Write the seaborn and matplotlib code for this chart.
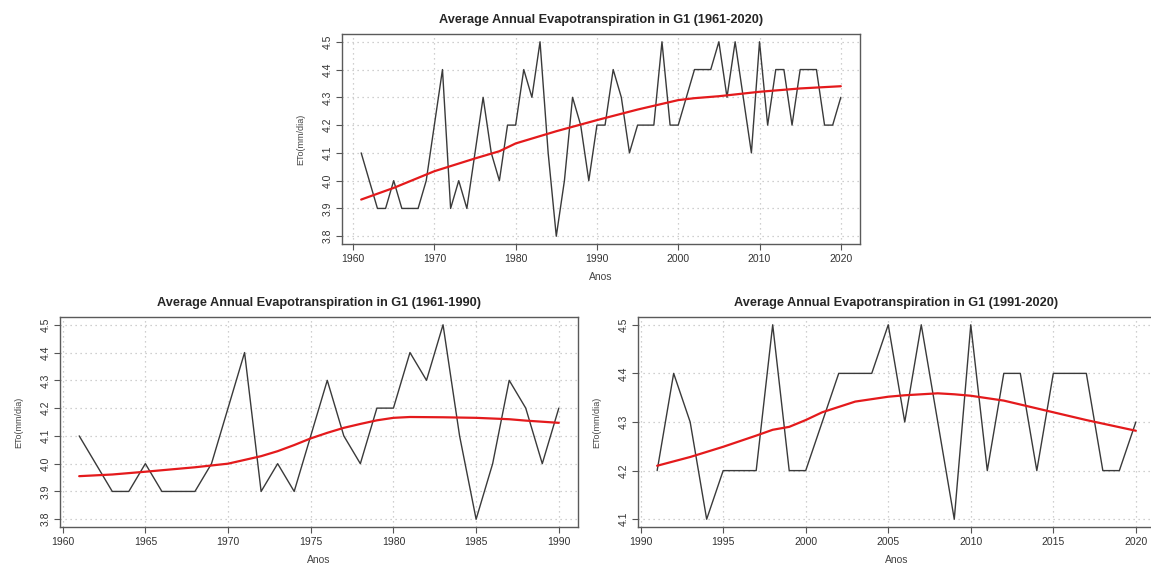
import numpy as np
import pandas as pd
import matplotlib.pyplot as plt
import seaborn as sns

# Annual mean ETo (mm/dia)
years_a = list(range(1961, 1991))
eto_a = [4.1, 4.0, 3.9, 3.9, 4.0, 3.9, 3.9, 3.9, 4.0, 4.2,
         4.4, 3.9, 4.0, 3.9, 4.1, 4.3, 4.1, 4.0, 4.2, 4.2,
         4.4, 4.3, 4.5, 4.1, 3.8, 4.0, 4.3, 4.2, 4.0, 4.2]
years_b = list(range(1991, 2021))
eto_b = [4.2, 4.4, 4.3, 4.1, 4.2, 4.2, 4.2, 4.5, 4.2, 4.2,
         4.3, 4.4, 4.4, 4.4, 4.5, 4.3, 4.5, 4.3, 4.1, 4.5,
         4.2, 4.4, 4.4, 4.2, 4.4, 4.4, 4.4, 4.2, 4.2, 4.3]

# smoothed (lowess) curves
trend_all_x = [1961, 1965, 1970, 1975, 1978, 1980, 1985, 1988, 1990, 1995,
               2000, 2002, 2005, 2010, 2015, 2020]
trend_all_y = [3.932, 3.974, 4.034, 4.080, 4.106, 4.134, 4.178, 4.202, 4.218, 4.256,
               4.290, 4.297, 4.304, 4.320, 4.332, 4.340]
trend_a_x = [1961, 1963, 1965, 1968, 1970, 1972, 1973, 1974, 1975, 1976,
             1977, 1978, 1979, 1980, 1981, 1983, 1985, 1987, 1988, 1990]
trend_a_y = [3.955, 3.961, 3.971, 3.987, 4.000, 4.027, 4.045, 4.067, 4.091, 4.111,
             4.129, 4.143, 4.156, 4.165, 4.168, 4.167, 4.165, 4.160, 4.155, 4.147]
trend_b_x = [1991, 1993, 1995, 1997, 1998, 1999, 2000, 2001, 2002, 2003,
             2004, 2005, 2006, 2007, 2008, 2009, 2010, 2012, 2014, 2015, 2017, 2020]
trend_b_y = [4.210, 4.228, 4.249, 4.272, 4.284, 4.290, 4.304, 4.320, 4.331, 4.342,
             4.347, 4.352, 4.355, 4.357, 4.359, 4.357, 4.354, 4.344, 4.328, 4.320, 4.304, 4.282]

sns.set_theme(style='white')
plt.rcParams['font.family'] = ['Liberation Sans', 'DejaVu Sans']

fig = plt.figure(figsize=(11.51, 5.63), dpi=100)
W, H = 1151, 563


def px_axes(x0, y0, x1, y1):
    return fig.add_axes([x0 / W, 1 - y1 / H, (x1 - x0) / W, (y1 - y0) / H])


def panel(ax, x, y, tx, ty, title, xstep):
    sns.lineplot(x=x, y=y, ax=ax, color='#3a3a3a', linewidth=1.0, estimator=None)
    sns.lineplot(x=tx, y=ty, ax=ax, color='#e41a1c', linewidth=1.6, estimator=None)
    # R style 4% padding
    xr = max(x) - min(x)
    yr = max(y) - min(y)
    ax.set_xlim(min(x) - 0.04 * xr, max(x) + 0.04 * xr)
    ax.set_ylim(min(y) - 0.04 * yr, max(y) + 0.04 * yr)
    xt = np.arange((min(x) // xstep) * xstep, max(x) + xstep, xstep)
    xt = xt[(xt >= ax.get_xlim()[0]) & (xt <= ax.get_xlim()[1])]
    yt = np.round(np.arange(min(y), max(y) + 0.05, 0.1), 1)
    ax.set_xticks(xt)
    ax.set_yticks(yt)
    ax.set_xticklabels([str(int(v)) for v in xt])
    ax.set_yticklabels([f'{v:.1f}' for v in yt], rotation=90, va='center')
    ax.grid(True, color='#c0c0c0', linestyle=(0, (1, 3)), linewidth=0.9)
    for s in ax.spines.values():
        s.set_color('#5a5a5a')
        s.set_linewidth(1.0)
    ax.tick_params(direction='out', length=4, width=0.8, color='#555555',
                   labelsize=7.5, labelcolor='#333333', pad=3,
                   bottom=True, left=True)
    ax.set_title(title, fontsize=9.2, fontweight='bold', pad=8)
    ax.set_xlabel('Anos', fontsize=7.5, color='#444444', labelpad=6)
    ax.set_ylabel('ETo(mm/dia)', fontsize=6.5, color='#444444', labelpad=12)


ax1 = px_axes(342, 34, 860, 244)
panel(ax1, years_a + years_b, eto_a + eto_b, trend_all_x, trend_all_y,
      'Average Annual Evapotranspiration in G1 (1961-2020)', 10)

ax2 = px_axes(60, 317, 578, 527)
panel(ax2, years_a, eto_a, trend_a_x, trend_a_y,
      'Average Annual Evapotranspiration in G1 (1961-1990)', 5)

ax3 = px_axes(638, 317, 1155, 527)
panel(ax3, years_b, eto_b, trend_b_x, trend_b_y,
      'Average Annual Evapotranspiration in G1 (1991-2020)', 5)

fig.savefig('out.png', dpi=100)
